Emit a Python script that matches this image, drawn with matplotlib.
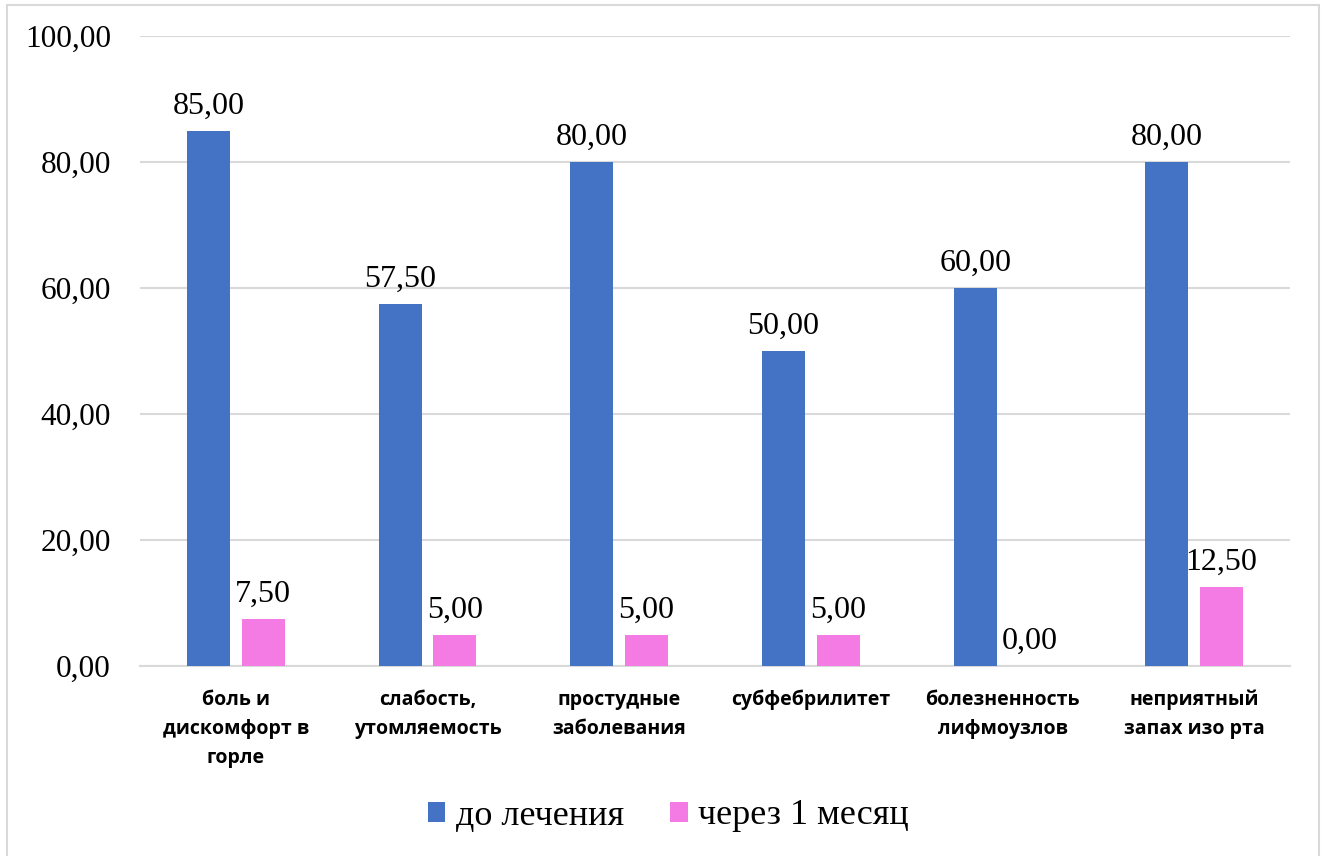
import matplotlib
matplotlib.use("Agg")
import matplotlib.pyplot as plt
import numpy as np
from matplotlib.patches import Rectangle

categories = ["боль и\nдискомфорт в\nгорле", "слабость,\nутомляемость", "простудные\nзаболевания",
              "субфебрилитет", "болезненность\nлифмоузлов", "неприятный\nзапах изо рта"]
before = [85.0, 57.5, 80.0, 50.0, 60.0, 80.0]
after = [7.5, 5.0, 5.0, 5.0, 0.0, 12.5]
series_names = ["до лечения", "через 1 месяц"]
yticks = [0, 20, 40, 60, 80, 100]

blue = "#4472C4"
pink = "#F57BE4"
grid = "#D9D9D9"
serif = "Liberation Serif"

fig = plt.figure(figsize=(13.28, 8.56), dpi=100)
ax = fig.add_axes([140/1328, 1-666/856, 1150/1328, 630/856])

x = np.arange(len(categories))
w = 0.224
off = 0.142
b1 = ax.bar(x - off, before, w, color=blue, label=series_names[0], zorder=3)
b2 = ax.bar(x + off, after, w, color=pink, label=series_names[1], zorder=3)

def fmt(v):
    return f"{v:.2f}".replace(".", ",")

for bars, vals in ((b1, before), (b2, after)):
    for r, v in zip(bars, vals):
        ax.annotate(fmt(v), (r.get_x() + r.get_width()/2, v), xytext=(0, 10),
                    textcoords="offset pixels",
                    ha="center", va="bottom", fontsize=23, family=serif, color="black")

ax.set_xlim(-0.5, len(categories) - 0.5)
ax.set_ylim(0, 100)
ax.set_yticks(yticks)
ax.set_yticklabels([fmt(v) for v in yticks], fontsize=22.5, family=serif)
ax.yaxis.grid(True, color=grid, linewidth=1.5, zorder=0)
ax.set_axisbelow(True)
ax.set_xticks(x)
ax.set_xticklabels(categories, fontsize=14, family="Open Sans", fontweight="bold",
                   linespacing=1.62, va="top")
ax.tick_params(axis="both", length=0)
ax.tick_params(axis="x", pad=17)
ax.tick_params(axis="y", pad=21)
for s in ["top", "right", "left"]:
    ax.spines[s].set_visible(False)
ax.spines["bottom"].set_color(grid)
ax.spines["bottom"].set_linewidth(1.5)

leg = fig.legend(handles=[b1, b2], labels=series_names, loc="center", bbox_to_anchor=(0.5034, 1-816/856),
                 ncol=2, frameon=False, prop={"family": serif, "size": 26},
                 handlelength=0.48, handleheight=0.48, handletextpad=0.3, columnspacing=1.28)

fig.patches.append(Rectangle((7/1328, -0.01), (1319-7)/1328, 1.01 - 5/856,
                             transform=fig.transFigure, fill=False, edgecolor=grid, linewidth=1.5))

fig.savefig("out.png", dpi=100)
